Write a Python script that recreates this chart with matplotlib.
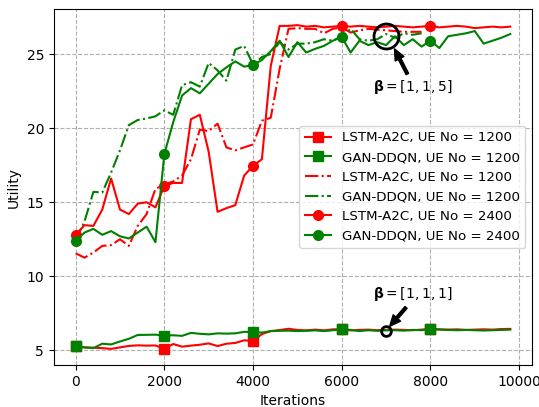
import numpy as np
import matplotlib
matplotlib.use("Agg")
from matplotlib import pyplot as plt

# iterations, sampled every 200
iters = list(range(0, 10000, 200))
iters_short = iters[:40]

# UE No = 1200 (bottom, squares)
lstm_1200 = [5.29, 5.2, 5.18, 5.15, 5.1, 5.2, 5.3, 5.34, 5.32, 5.33,
             5.1, 5.43, 5.25, 5.32, 5.38, 5.47, 5.29, 5.45, 5.5, 5.68,
             5.63, 6.1, 6.3, 6.37, 6.46, 6.38, 6.35, 6.4, 6.35, 6.42,
             6.42, 6.35, 6.38, 6.4, 6.36, 6.38, 6.4, 6.38, 6.36, 6.4,
             6.45, 6.42, 6.4, 6.42, 6.38, 6.4, 6.42, 6.4, 6.44, 6.45]
gan_1200 = [5.29, 5.2, 5.15, 5.45, 5.4, 5.6, 5.78, 6.04, 6.05, 6.06,
            6.0, 6.02, 5.98, 6.18, 6.12, 6.08, 6.15, 6.13, 6.15, 6.25,
            6.24, 6.2, 6.3, 6.32, 6.33, 6.3, 6.32, 6.35, 6.3, 6.36,
            6.42, 6.38, 6.3, 6.36, 6.32, 6.35, 6.36, 6.33, 6.38, 6.36,
            6.45, 6.4, 6.38, 6.36, 6.38, 6.36, 6.34, 6.36, 6.38, 6.4]

# UE No = 1200, beta = [1, 1, 5] (dash-dot)
lstm_1200_b = [11.55, 11.26, 11.6, 12.05, 12.1, 12.5, 12.05, 13.4, 14.2, 15.9,
               16.2, 16.4, 16.8, 17.9, 19.9, 19.8, 20.3, 18.7, 18.5, 18.7,
               18.9, 20.5, 20.7, 24.0, 26.7, 26.75, 26.7, 26.7, 26.4, 26.7,
               26.8, 26.45, 26.6, 26.7, 26.65, 26.6, 26.55, 26.5, 26.5, 26.5]
gan_1200_b = [12.4, 13.7, 15.7, 15.65, 17.0, 18.5, 20.2, 20.55, 20.65, 20.8,
              21.2, 20.9, 22.9, 23.1, 22.8, 24.4, 23.9, 23.2, 25.3, 25.55,
              24.3, 24.8, 25.0, 25.8, 25.3, 25.7, 25.7, 25.8, 26.0, 25.9,
              26.2, 26.7, 26.0, 25.9, 26.0, 26.35, 26.1, 26.4, 26.3, 26.4]

# UE No = 2400 (circles)
lstm_2400 = [12.8, 13.45, 13.4, 14.5, 16.6, 14.5, 14.2, 14.9, 15.0, 14.65,
             16.1, 16.3, 16.3, 20.6, 20.9, 18.4, 14.35, 14.6, 14.8, 16.8,
             17.45, 17.9, 24.2, 26.9, 26.9, 26.95, 26.85, 26.9, 26.8, 26.85,
             26.9, 26.85, 26.9, 26.85, 26.8, 26.85, 26.9, 26.85, 26.8, 26.85,
             26.9, 26.8, 26.85, 26.9, 26.85, 26.75, 26.8, 26.85, 26.8, 26.85]
gan_2400 = [12.4, 12.95, 13.2, 12.8, 13.05, 12.7, 12.55, 12.95, 13.35, 12.3,
            18.25, 20.4, 22.2, 22.7, 22.35, 23.0, 23.65, 24.1, 24.5, 24.15,
            24.25, 24.6, 25.2, 25.9, 24.8, 25.8, 25.1, 25.35, 25.55, 25.9,
            26.15, 25.1, 25.9, 25.6, 25.8, 25.6, 26.2, 25.6, 26.0, 25.5,
            25.9, 25.4, 26.2, 26.3, 26.4, 26.55, 25.7, 25.9, 26.1, 26.35]

fig = plt.figure(figsize=(5.39, 4.07), dpi=100)
ax = fig.add_axes([0.1, 0.103, 0.887, 0.875])

ax.plot(iters, lstm_1200, "-s", c="red", lw=1.5, ms=7, markevery=10, label="LSTM-A2C, UE No = 1200")
ax.plot(iters, gan_1200, "-s", c="green", lw=1.5, ms=7, markevery=10, label="GAN-DDQN, UE No = 1200")
ax.plot(iters_short, lstm_1200_b, "-.", c="red", lw=1.5, label="LSTM-A2C, UE No = 1200")
ax.plot(iters_short, gan_1200_b, "-.", c="green", lw=1.5, label="GAN-DDQN, UE No = 1200")
ax.plot(iters, lstm_2400, "-o", c="red", lw=1.5, ms=7, markevery=10, label="LSTM-A2C, UE No = 2400")
ax.plot(iters, gan_2400, "-o", c="green", lw=1.5, ms=7, markevery=10, label="GAN-DDQN, UE No = 2400")

# highlight circles
ax.plot([7000], [26.2], "o", mfc="none", mec="black", ms=18, mew=2)
ax.plot([7000], [6.3], "o", mfc="none", mec="black", ms=7, mew=2)

arrow = dict(facecolor="black", shrink=0, width=2, headwidth=7, headlength=8)
ax.annotate("", xy=(7190, 25.35), xytext=(7480, 23.65), arrowprops=arrow)
ax.text(7600, 22.8, r"$\mathbf{\beta} = [1, 1, 5]$", ha="center", va="center", fontsize=10)
ax.annotate("", xy=(7080, 6.62), xytext=(7450, 7.9), arrowprops=arrow)
ax.text(7600, 8.8, r"$\mathbf{\beta} = [1, 1, 1]$", ha="center", va="center", fontsize=10)

ax.grid(True, linestyle="--", color="#b0b0b0", lw=0.8)
ax.set_xlabel("Iterations")
ax.set_ylabel("Utility")
ax.legend(loc="center right", fontsize=9.6)

fig.savefig("out.png", dpi=100)
